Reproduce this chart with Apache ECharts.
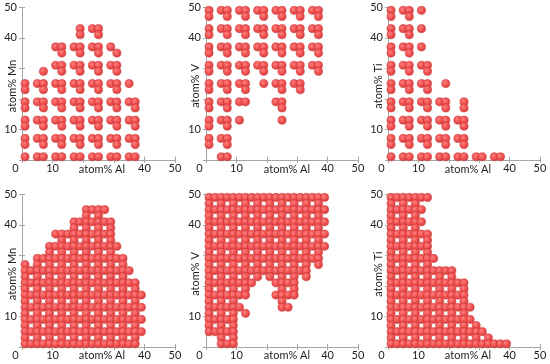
<!DOCTYPE html>
<html><head><meta charset="utf-8">
<script src="https://cdn.jsdelivr.net/npm/echarts@6/dist/echarts.min.js"></script>
<style>html,body{margin:0;padding:0;background:#fff}#c{width:550px;height:364px}</style>
</head><body><div id="c"></div>
<script>
// ---- top row: sampled compositions, [atom% Y, [atom% Al ...]] ----
const mnSampled = [
  [43, [19,23,25]],
  [41, [19,25]],
  [37, [11,13,17,19,23,25,29]],
  [35, [13,19,25,31]],
  [31, [11,13,17,19,23,25,29,31]],
  [29, [7,13,19,25,31]],
  [25, [1,5,7,11,13,17,19,23,25,29,31,35]],
  [23, [1,7,13,19,25,31]],
  [19, [1,5,7,11,13,17,19,23,25,29,31,35,37]],
  [17, [1,7,13,19,25,31,37]],
  [13, [1,5,7,11,13,17,19,23,25,29,31,35,37]],
  [11, [1,7,13,19,25,31,37]],
  [7,  [1,5,7,11,13,17,19,23,25,29,31,35,37]],
  [5,  [1,7,13,19,25,31,37]],
  [1,  [1,5,7,11,13,17,19,23,25,29,31,35,37]]
];
const vSampled = [
  [49, [1,5,7,11,13,17,19,23,25,29,31,35,37]],
  [47, [1,7,13,19,25,31,37]],
  [43, [1,5,7,11,13,17,19,23,25,29,31,35,37]],
  [41, [1,7,13,19,25,31,37]],
  [37, [1,5,7,11,13,17,19,23,25,29,31,35,37]],
  [35, [1,7,13,19,25,31,37]],
  [31, [1,5,7,11,13,17,19,23,25,29,31,35,37]],
  [29, [1,7,13,19,25,31,37]],
  [25, [1,5,7,11,13,19,23,25,29,31]],
  [23, [1,7,13,25,31]],
  [19, [1,5,7,11,13,23,25]],
  [17, [1,7,25]],
  [13, [1,5,7,11,25]],
  [11, [1,7]],
  [7,  [1,5,7]],
  [5,  [1,7]],
  [1,  [5,7]]
];
const tiSampled = [
  [49, [1,5,7,11]],
  [47, [1,7]],
  [43, [1,5,7,11]],
  [41, [1,7]],
  [37, [1,5,7,11]],
  [35, [1,7]],
  [31, [1,5,7,11,13]],
  [29, [1,7,13]],
  [25, [1,5,7,11,13,19]],
  [23, [1,7,13]],
  [19, [1,5,7,11,13,17,19,25]],
  [17, [1,7,13,19,25]],
  [13, [1,5,7,11,13,17,19,23,25]],
  [11, [1,7,13,19,25]],
  [7,  [1,5,7,11,13,17,19,23,25]],
  [5,  [1,7,13,19,25]],
  [1,  [1,5,7,11,13,17,19,23,25,29,31,35,37]]
];

// ---- bottom row: full composition grid, one mask per row ('#' = point present) ----
const gridX = [1,3,5,7,9,11,13,15,17,19,21,23,25,27,29,31,33,35,37,39,41,43,45,47,49];
const gridY = [49,47,45,43,41,39,37,35,33,31,29,27,25,23,21,19,17,15,13,11,9,7,5,3,1];
const mnMask = [
  '.........................',
  '.........................',
  '..........####...........',
  '..........#.#............',
  '........#######..........',
  '........#.#.#.#..........',
  '.....##########..........',
  '......#.#.#.#.#..........',
  '....############.........',
  '....#.#.#.#.#.#..........',
  '..###############........',
  '#.#.#.#.#.#.#.#.#........',
  '##################.......',
  '#.#.#.#.#.#.#.#.#........',
  '###################......',
  '#.#.#.#.#.#.#.#.#.#......',
  '####################.....',
  '#.#.#.#.#.#.#.#.#.#......',
  '####################.....',
  '#.#.#.#.#.#.#.#.#.#......',
  '####################.....',
  '#.#.#.#.#.#.#.#.#.#......',
  '####################.....',
  '#.#.#.#.#.#.#.#.#.#......',
  '###################......'
];
const vMask = [
  '####################.....',
  '#.#.#.#.#.#.#.#.#.#......',
  '####################.....',
  '#.#.#.#.#.#.#.#.#.#......',
  '####################.....',
  '#.#.#.#.#.#.#.#.#.#......',
  '####################.....',
  '#.#.#.#.#.#.#.#.#.#......',
  '####################.....',
  '#.#.#.#.#.#.#.#.#.#......',
  '###################......',
  '#.#.#.#.#.#.#.#.#.#......',
  '#################........',
  '#.#.#.#.#.#.#.#.#........',
  '########...####..........',
  '#.#.#.#.....#.#..........',
  '#######....####..........',
  '#.#.#.......#............',
  '######......##...........',
  '#.#.#.#..................',
  '#####....................',
  '#.#.#....................',
  '#####....................',
  '..#.#....................',
  '..###....................'
];
const tiMask = [
  '#######..................',
  '#.#.#....................',
  '######...................',
  '#.#.#....................',
  '######...................',
  '#.#.#....................',
  '#######..................',
  '#.#.#.#..................',
  '#######..................',
  '#.#.#.#..................',
  '########.................',
  '#.#.#.#..................',
  '###########..............',
  '#.#.#.#.#.#..............',
  '#############............',
  '#.#.#.#.#.#.#............',
  '#############............',
  '#.#.#.#.#.#.#............',
  '##############...........',
  '#.#.#.#.#.#.#............',
  '##############...........',
  '#.#.#.#.#.#.#.#..........',
  '################.........',
  '#.#.#.#.#.#.#.#.#........',
  '####################.....'
];

const xTickLabels = [0, 10, 40, 50];
const yTickLabels = [10, 40, 50];
const xName = 'atom% Al';
const yNames = ['atom% Mn', 'atom% V', 'atom% Ti'];

function rowsToPoints(rows) {
  const out = [];
  rows.forEach(([y, xs]) => xs.forEach(x => out.push([x, y])));
  return out;
}
function maskToPoints(mask) {
  const out = [];
  mask.forEach((row, r) => {
    for (let i = 0; i < row.length; i++) if (row[i] === '#') out.push([gridX[i], gridY[r]]);
  });
  return out;
}

const panelData = [
  rowsToPoints(mnSampled), rowsToPoints(vSampled), rowsToPoints(tiSampled),
  maskToPoints(mnMask), maskToPoints(vMask), maskToPoints(tiMask)
];

const panelLeft = [22, 206, 388];
const panelWidth = [153, 152, 152];
const panelTop = [7.3, 194.4];
const panelHeight = 152.5;
// axis-title anchor points (centres)
const xNameX = [102, 287, 468];
const xNameY = [169, 355.5];
const yNameX = [12.5, 195, 378];
const yNameY = [86, 274];
const AX = '#a6a6a6';
const TXT = '#1e1e1e';
const FONT = 'Lato';

const grids = [], xAxes = [], yAxes = [], series = [], graphics = [];
const dotColor = {
  type: 'radial', x: 0.4, y: 0.38, r: 0.65,
  colorStops: [{offset: 0, color: '#ff8080'}, {offset: 0.55, color: '#f05050'}, {offset: 1, color: '#d23c3c'}]
};

for (let p = 0; p < 6; p++) {
  const col = p % 3, row = Math.floor(p / 3);
  grids.push({left: panelLeft[col], width: panelWidth[col], top: panelTop[row], height: panelHeight,
    containLabel: false, outerBoundsMode: 'none'});
  const base = {gridIndex: p, type: 'value', min: 0, max: 50, interval: 10, splitLine: {show: false}};
  const xi = xAxes.length;
  xAxes.push(Object.assign({}, base, {
    position: 'bottom',
    axisLine: {show: true, lineStyle: {color: AX, width: 1}},
    axisTick: {show: true, inside: false, length: 3, lineStyle: {color: AX}},
    axisLabel: {
      show: true, margin: 3, color: TXT, fontFamily: FONT, fontSize: 11,
      formatter: v => v === 0 ? '{z|0}' : (xTickLabels.indexOf(v) >= 0 ? String(v) : ''),
      rich: {z: {color: TXT, fontFamily: FONT, fontSize: 11, padding: [0, 13, 0, 0]}}
    }
  }));
  xAxes.push(Object.assign({}, base, {position: 'bottom', axisLine: {show: false},
    axisTick: {show: true, inside: true, length: 3, lineStyle: {color: AX}}, axisLabel: {show: false}}));
  xAxes.push(Object.assign({}, base, {position: 'top', axisLine: {show: true, lineStyle: {color: AX}},
    axisTick: {show: true, inside: false, length: 3, lineStyle: {color: AX}}, axisLabel: {show: false}}));
  xAxes.push(Object.assign({}, base, {position: 'top', axisLine: {show: false},
    axisTick: {show: true, inside: true, length: 3, lineStyle: {color: AX}}, axisLabel: {show: false}}));
  const yi = yAxes.length;
  yAxes.push(Object.assign({}, base, {
    position: 'left',
    axisLine: {show: true, lineStyle: {color: AX, width: 1}},
    axisTick: {show: true, inside: false, length: 3, lineStyle: {color: AX}},
    axisLabel: {
      show: true, margin: 5, color: TXT, fontFamily: FONT, fontSize: 11,
      formatter: v => (yTickLabels.indexOf(v) >= 0 ? String(v) : '')
    }
  }));
  yAxes.push(Object.assign({}, base, {position: 'left', axisLine: {show: false},
    axisTick: {show: true, inside: true, length: 3, lineStyle: {color: AX}}, axisLabel: {show: false}}));
  yAxes.push(Object.assign({}, base, {position: 'right', axisLine: {show: true, lineStyle: {color: AX}},
    axisTick: {show: true, inside: false, length: 3, lineStyle: {color: AX}}, axisLabel: {show: false}}));
  yAxes.push(Object.assign({}, base, {position: 'right', axisLine: {show: false},
    axisTick: {show: true, inside: true, length: 3, lineStyle: {color: AX}}, axisLabel: {show: false}}));
  series.push({
    type: 'scatter', xAxisIndex: xi, yAxisIndex: yi, data: panelData[p],
    symbol: 'circle', symbolSize: 8.2, silent: true, animation: false,
    itemStyle: {color: dotColor, borderColor: '#c53434', borderWidth: 0.5, opacity: 1}
  });
  graphics.push({type: 'text', x: xNameX[col], y: xNameY[row], silent: true, z: 10,
    style: {text: xName, fill: TXT, font: '11px ' + FONT, textAlign: 'center', textVerticalAlign: 'middle'}});
  graphics.push({type: 'text', x: yNameX[col], y: yNameY[row], rotation: Math.PI / 2, silent: true, z: 10,
    style: {text: yNames[col], fill: TXT, font: '11px ' + FONT, textAlign: 'center', textVerticalAlign: 'middle'}});
}

const chart = echarts.init(document.getElementById('c'), null, {renderer: 'canvas'});
chart.setOption({animation: false, backgroundColor: '#fff', grid: grids, xAxis: xAxes, yAxis: yAxes, series: series, graphic: graphics});
</script></body></html>
